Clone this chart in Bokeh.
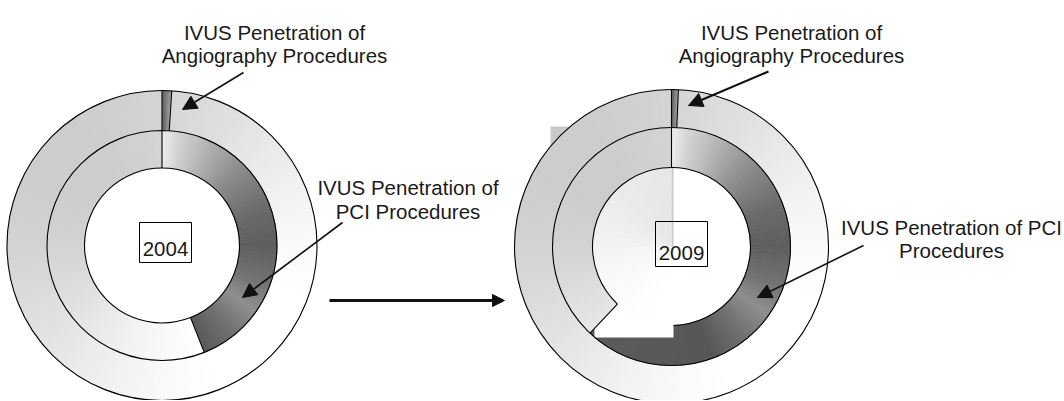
import numpy as np
from bokeh.plotting import figure
from bokeh.models import Range1d, Arrow, NormalHead
from bokeh.core.properties import value
from bokeh.embed import file_html
from bokeh.resources import INLINE

# ---------------- data ----------------
years = ["2004", "2009"]
angio_pct = [1.0, 0.7]      # IVUS penetration of angiography procedures (outer ring), %
pci_pct = [44.0, 62.0]      # IVUS penetration of PCI procedures (inner ring), %
angio_label = ["IVUS Penetration of", "Angiography Procedures"]
pci_label_2004 = ["IVUS Penetration of", "PCI Procedures"]
pci_label_2009 = ["IVUS Penetration of PCI", "Procedures"]

# ---------------- layout helpers ----------------
PAGE_W, PAGE_H = 1064, 400
def Y(y):
    return PAGE_H - y

FONT = value("Liberation Sans")
FS = "20.5px"

p = figure(width=PAGE_W, height=PAGE_H, x_range=Range1d(0, PAGE_W), y_range=Range1d(0, PAGE_H),
           x_axis_type=None, y_axis_type=None, toolbar_location=None, output_backend="svg",
           min_border=0, outline_line_color=None,
           background_fill_color="white", border_fill_color="white")
p.grid.visible = False

def grey(L):
    v = int(round(255 * float(np.clip(L, 0, 1))))
    return "#%02x%02x%02x" % (v, v, v)

def mang(tc):
    # clockwise degrees from 12 o'clock -> math radians
    return np.deg2rad(90.0 - np.asarray(tc, dtype=float))

def strips(cx, cy, r0, r1, t0, t1, fn, step=1.0):
    n = max(1, int(np.ceil((t1 - t0) / step)))
    e = np.linspace(t0, t1, n + 1)
    mids = (e[:-1] + e[1:]) / 2
    cols = [grey(fn(m)) for m in mids]
    ov = min(0.3, (t1 - t0) / n * 0.3)
    p.annular_wedge(x=cx, y=cy, inner_radius=r0, outer_radius=r1,
                    start_angle=mang(np.minimum(e[1:] + ov, t1)), end_angle=mang(e[:-1]),
                    fill_color=cols, line_color=cols, line_width=0.5)

def light_fn(tc):
    dx = np.sin(np.deg2rad(tc)); dyd = -np.cos(np.deg2rad(tc))
    return 0.905 + 0.075 * dx + 0.07 * dyd

def dark_fn(tc):
    return np.interp(tc, [0, 10, 25, 45, 70, 90, 110, 125, 140, 160, 230],
                     [0.93, 0.82, 0.70, 0.55, 0.42, 0.37, 0.45, 0.56, 0.45, 0.34, 0.36])

def angio_fn_factory(a):
    return lambda tc: 0.33 + 0.30 * (tc / a)

def hole_fn(tc):
    dyd = -np.cos(np.deg2rad(tc))
    return 0.955 + 0.045 * dyd

donuts = [dict(cx=161.5, cy=Y(245), r=(77.5, 115.0, 155.0)),
          dict(cx=671.0, cy=Y(246), r=(79.0, 119.0, 157.0))]

def pt(cx, cy, r, tc):
    t = np.deg2rad(tc)
    return cx + r * np.sin(t), cy + r * np.cos(t)

LW = 1.1
for i, d in enumerate(donuts):
    cx, cy = d["cx"], d["cy"]
    rin, rmid, rout = d["r"]
    a_end = angio_pct[i] / 100.0 * 360.0
    pci_end = pci_pct[i] / 100.0 * 360.0

    if i == 1:
        # pasted grey patch behind the left half of the 2009 ring
        p.quad(left=550, right=673, top=Y(126), bottom=Y(260), fill_color="#c9c9c9", line_color=None)

    # outer ring: angiography share + remainder
    strips(cx, cy, rmid, rout, 0.0, a_end, angio_fn_factory(a_end), step=0.5)
    strips(cx, cy, rmid, rout, a_end, 360.0, light_fn)
    # inner ring: PCI share
    strips(cx, cy, rin, rmid, 0.0, pci_end, dark_fn)
    if i == 1:
        p.quad(left=594, right=673, top=Y(246), bottom=Y(337), fill_color="white", line_color=None)
    strips(cx, cy, rin, rmid, pci_end, 360.0, light_fn)
    if i == 1:
        strips(cx, cy, 0, rin, 180.0, 360.0, hole_fn, step=2.0)

    # outlines
    p.circle(x=[cx, cx], y=[cy, cy], radius=[rout, rmid], fill_color=None,
             line_color="black", line_width=LW)
    if i == 0:
        p.circle(x=[cx], y=[cy], radius=[rin], fill_color=None, line_color="black", line_width=LW)
    else:
        gap0 = 180.0 - np.rad2deg(np.arcsin(2.0 / rin))
        p.arc(x=cx, y=cy, radius=rin, start_angle=float(mang(pci_end)), end_angle=float(mang(gap0)),
              direction="clock", line_color="black", line_width=LW)
    segs = [(0.0, rmid, rout), (a_end, rmid, rout), (0.0, rin, rmid), (pci_end, rin, rmid)]
    x0s, y0s, x1s, y1s = [], [], [], []
    for tc, ra, rb in segs:
        xa, ya = pt(cx, cy, ra, tc); xb, yb = pt(cx, cy, rb, tc)
        x0s.append(xa); y0s.append(ya); x1s.append(xb); y1s.append(yb)
    p.segment(x0=x0s, y0=y0s, x1=x1s, y1=y1s, line_color="black", line_width=LW)

# year boxes
p.quad(left=[139, 655], right=[191, 707], top=[Y(222), Y(221)], bottom=[Y(262), Y(266)],
       fill_color=None, line_color="black", line_width=1)
p.text(x=[165, 681], y=[Y(248), Y(252)], text=years, text_font=FONT, text_font_size=FS,
       text_align="center", text_baseline="alphabetic", text_color="#1a1a1a")

# labels
def label(lines, xc, ys):
    p.text(x=[xc] * len(lines), y=[Y(v) for v in ys], text=lines, text_font=FONT,
           text_font_size=FS, text_align="center", text_baseline="alphabetic", text_color="#1a1a1a")

label(angio_label, 274, [32, 55])
label(angio_label, 791, [32, 55])
label(pci_label_2004, 407.5, [187, 211])
label(pci_label_2009, 951, [227, 250])

# arrows
def arrow(x0, y0, x1, y1, lw, size):
    p.add_layout(Arrow(end=NormalHead(size=size, fill_color="#111111", line_color="#111111", line_width=1),
                       x_start=x0, y_start=Y(y0), x_end=x1, y_end=Y(y1),
                       line_color="#111111", line_width=lw))

arrow(243, 72, 182, 109, 1.6, 14)
arrow(342, 222, 242, 297, 1.6, 14)
arrow(329, 300, 504, 300, 3.0, 12)
arrow(768, 71, 688, 105, 2.2, 14)
arrow(863, 245, 757, 297, 1.6, 14)

open("out.html", "w").write(file_html(p, INLINE))
